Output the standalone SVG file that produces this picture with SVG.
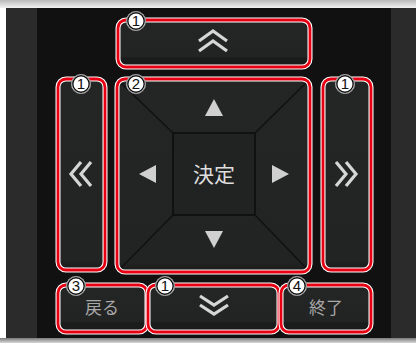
<svg xmlns="http://www.w3.org/2000/svg" width="416" height="343" viewBox="0 0 416 343">
<defs>
<linearGradient id="topband" x1="0" y1="0" x2="0" y2="1"><stop offset="0" stop-color="#b9b9b9"/><stop offset="1" stop-color="#f2f2f2"/></linearGradient>
<linearGradient id="botband" x1="0" y1="0" x2="0" y2="1"><stop offset="0" stop-color="#7a7a7a"/><stop offset="1" stop-color="#d8d8d8"/></linearGradient>
<linearGradient id="btn" x1="0" y1="0" x2="0" y2="1"><stop offset="0" stop-color="#242525"/><stop offset="0.78" stop-color="#222323"/><stop offset="0.8" stop-color="#1b1c1c"/><stop offset="1" stop-color="#1a1a1a"/></linearGradient>
<linearGradient id="tall" x1="0" y1="0" x2="0" y2="1"><stop offset="0" stop-color="#242525"/><stop offset="0.95" stop-color="#222323"/><stop offset="1" stop-color="#1a1a1a"/></linearGradient>
</defs>
<style>
.w{fill:none;stroke:#ffffff;stroke-width:5}
.r{fill:none;stroke:#e60012;stroke-width:2.8}
.chev{fill:none;stroke:#d6d6d6;stroke-width:3.2;stroke-linejoin:miter}
.tri{fill:#d0d0d0}
.sep{stroke:#111;stroke-width:1.6;fill:none}
.lbl{font-family:"Noto Sans CJK JP","Noto Sans",sans-serif;fill:#a8a8a8;font-size:17px;text-anchor:middle}
.main{font-family:"Noto Sans CJK JP","Noto Sans",sans-serif;fill:#dedede;font-size:21px;text-anchor:middle}
.bo{fill:#ffffff;stroke:#9a9a9a;stroke-width:1}
.bc{fill:#fff;stroke:#111;stroke-width:1.4}
.num{font-family:"Liberation Sans",Arial,sans-serif;font-size:15px;fill:#111;text-anchor:middle}
</style>
<!-- background -->
<rect x="0" y="0" width="416" height="343" fill="#2b2b2b"/>
<rect x="0" y="0" width="6" height="343" fill="#ffffff"/>
<rect x="37" y="8" width="354" height="330" fill="#111111"/>
<rect x="0" y="0" width="416" height="8" fill="url(#topband)"/>
<rect x="0" y="338" width="416" height="5" fill="url(#botband)"/>

<g id="btn-top">
<rect x="118" y="20" width="192" height="47" rx="8" fill="url(#btn)"/>
<polyline class="chev" points="199,41 213,31 227,41"/>
<polyline class="chev" points="199,51 213,41 227,51"/>
<rect class="w" x="118" y="20" width="192" height="47" rx="8"/>
<rect class="r" x="118" y="20" width="192" height="47" rx="8"/>
<circle class="bo" cx="136" cy="21" r="9.6"/><circle class="bc" cx="136" cy="21" r="8.2"/><text class="num" x="136" y="26.3">1</text>
</g>

<g id="btn-left">
<rect x="58" y="79" width="47" height="191" rx="8" fill="url(#tall)"/>
<polyline class="chev" points="81,162 71,174 81,186"/>
<polyline class="chev" points="91,162 81,174 91,186"/>
<rect class="w" x="58" y="79" width="47" height="191" rx="8"/>
<rect class="r" x="58" y="79" width="47" height="191" rx="8"/>
<circle class="bo" cx="81" cy="84" r="9.6"/><circle class="bc" cx="81" cy="84" r="8.2"/><text class="num" x="81" y="89.3">1</text>
</g>

<g id="dpad">
<rect x="117" y="79" width="193" height="193" rx="8" fill="url(#tall)"/>
<line class="sep" x1="173" y1="133" x2="120" y2="82"/>
<line class="sep" x1="255" y1="133" x2="307" y2="82"/>
<line class="sep" x1="173" y1="215" x2="120" y2="269"/>
<line class="sep" x1="255" y1="215" x2="307" y2="269"/>
<rect x="173" y="133" width="82" height="82" fill="#212222" stroke="#111" stroke-width="2"/>
<polygon class="tri" points="214,99 205,116 223,116"/>
<polygon class="tri" points="214,248 205,231 223,231"/>
<polygon class="tri" points="139,174 156,165 156,183"/>
<polygon class="tri" points="289,174 272,165 272,183"/>
<text class="main" x="214" y="182">決定</text>
<rect class="w" x="117" y="79" width="193" height="193" rx="8"/>
<rect class="r" x="117" y="79" width="193" height="193" rx="8"/>
<circle class="bo" cx="136" cy="84" r="9.6"/><circle class="bc" cx="136" cy="84" r="8.2"/><text class="num" x="136" y="89.3">2</text>
</g>

<g id="btn-right">
<rect x="323" y="79" width="48" height="191" rx="8" fill="url(#tall)"/>
<polyline class="chev" points="336,162 346,174 336,186"/>
<polyline class="chev" points="346,162 356,174 346,186"/>
<rect class="w" x="323" y="79" width="48" height="191" rx="8"/>
<rect class="r" x="323" y="79" width="48" height="191" rx="8"/>
<circle class="bo" cx="345" cy="84" r="9.6"/><circle class="bc" cx="345" cy="84" r="8.2"/><text class="num" x="345" y="89.3">1</text>
</g>

<g id="btn-back">
<rect x="58" y="285" width="89" height="47" rx="8" fill="url(#btn)"/>
<text class="lbl" x="102" y="314">戻る</text>
<rect class="w" x="58" y="285" width="89" height="47" rx="8"/>
<rect class="r" x="58" y="285" width="89" height="47" rx="8"/>
<circle class="bo" cx="76" cy="286" r="9.6"/><circle class="bc" cx="76" cy="286" r="8.2"/><text class="num" x="76" y="291.3">3</text>
</g>

<g id="btn-down">
<rect x="148" y="285" width="131" height="47" rx="8" fill="url(#btn)"/>
<polyline class="chev" points="200,296 214,305 228,296"/>
<polyline class="chev" points="200,305 214,314 228,305"/>
<rect class="w" x="148" y="285" width="131" height="47" rx="8"/>
<rect class="r" x="148" y="285" width="131" height="47" rx="8"/>
<circle class="bo" cx="165" cy="286" r="9.6"/><circle class="bc" cx="165" cy="286" r="8.2"/><text class="num" x="165" y="291.3">1</text>
</g>

<g id="btn-exit">
<rect x="281" y="285" width="90" height="47" rx="8" fill="url(#btn)"/>
<text class="lbl" x="326" y="314">終了</text>
<rect class="w" x="281" y="285" width="90" height="47" rx="8"/>
<rect class="r" x="281" y="285" width="90" height="47" rx="8"/>
<circle class="bo" cx="297" cy="286" r="9.6"/><circle class="bc" cx="297" cy="286" r="8.2"/><text class="num" x="297" y="291.3">4</text>
</g>
</svg>
